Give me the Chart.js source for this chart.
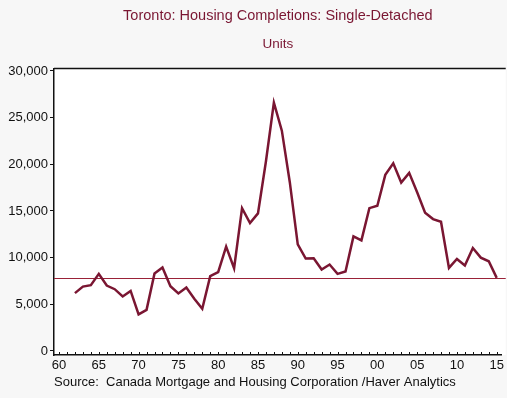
<!DOCTYPE html>
<html>
<head>
<meta charset="utf-8">
<script src="https://cdn.jsdelivr.net/npm/chart.js@4/dist/chart.umd.min.js"></script>
<style>
  html, body { margin: 0; padding: 0; background: #f7f7f7; }
  #grafico { display: block; }
</style>
</head>
<body>
<canvas id="grafico" width="507" height="398"></canvas>
<script>
// dados
const years = [1962, 1963, 1964, 1965, 1966, 1967, 1968, 1969, 1970, 1971,
  1972, 1973, 1974, 1975, 1976, 1977, 1978, 1979, 1980, 1981,
  1982, 1983, 1984, 1985, 1986, 1987, 1988, 1989, 1990, 1991,
  1992, 1993, 1994, 1995, 1996, 1997, 1998, 1999, 2000, 2001,
  2002, 2003, 2004, 2005, 2006, 2007, 2008, 2009, 2010, 2011,
  2012, 2013, 2014, 2015]
const completions = [6200, 6900, 7050, 8260, 7010, 6620, 5840, 6440, 3920, 4410,
  8300, 8940, 6940, 6160, 6800, 5590, 4520, 8010, 8440, 11180,
  8860, 15300, 13700, 14740, 20300, 26600, 23600, 18080, 11430, 9900,
  9930, 8720, 9260, 8260, 8510, 12280, 11850, 15300, 15560, 18870,
  20110, 18050, 19080, 17010, 14810, 14130, 13850, 8900, 9860, 9150,
  11030, 10000, 9610, 7830]
const refLevel = 7870
const tickYears = [1960, 1965, 1970, 1975, 1980, 1985, 1990, 1995, 2000, 2005, 2010, 2015]
const tickLabels = ['60', '65', '70', '75', '80', '85', '90', '95', '00', '05', '10', '15']
const yTicks = [0, 5000, 10000, 15000, 20000, 25000, 30000]
const minorYears = []
for (let a = 1960; a <= 2015; a++) minorYears.push(a)

const maroon = '#7a1632'
const font = "'Liberation Sans', Arial, sans-serif"

Chart.defaults.font.family = font
Chart.defaults.color = '#111'

// fundo branco, linha de referência, bordas e ticks menores
const extras = {
  id: 'extras',
  beforeDraw(chart) {
    const { ctx, chartArea: a } = chart
    ctx.save()
    ctx.fillStyle = '#ffffff'
    ctx.fillRect(a.left, a.top, a.right - a.left + 4, a.bottom - a.top)
    ctx.restore()
  },
  beforeDatasetsDraw(chart) {
    const { ctx, chartArea: a, scales } = chart
    const y = scales.y.getPixelForValue(refLevel)
    ctx.save()
    ctx.strokeStyle = '#9a2238'
    ctx.lineWidth = 1
    ctx.beginPath()
    ctx.moveTo(a.left, Math.round(y) + 0.5)
    ctx.lineTo(a.right + 4, Math.round(y) + 0.5)
    ctx.stroke()
    ctx.restore()
  },
  afterDraw(chart) {
    const { ctx, chartArea: a, scales } = chart
    ctx.save()
    ctx.strokeStyle = '#111'
    ctx.lineWidth = 1.5
    ctx.beginPath()
    ctx.moveTo(a.left, a.top)
    ctx.lineTo(a.right + 4, a.top)
    ctx.stroke()
    ctx.lineWidth = 1
    ctx.beginPath()
    minorYears.forEach(yr => {
      const x = Math.round(scales.x.getPixelForValue(yr)) + 0.5
      ctx.moveTo(x, a.bottom)
      ctx.lineTo(x, a.bottom - 3)
    })
    ctx.stroke()
    ctx.restore()
  }
}

const data = {
  datasets: [{
    data: years.map((yr, i) => ({ x: yr, y: completions[i] })),
    borderColor: maroon,
    borderWidth: 2.5,
    pointRadius: 0,
    tension: 0,
    fill: false
  }]
}

const config = {
  type: 'line',
  data,
  plugins: [extras],
  options: {
    responsive: false,
    animation: false,
    layout: { padding: { left: 0, right: 4, top: 0, bottom: 0 } },
    plugins: {
      legend: { display: false },
      tooltip: { enabled: false },
      title: {
        display: true,
        fullSize: false,
        text: 'Toronto: Housing Completions: Single-Detached',
        color: maroon,
        font: { size: 14.5, weight: 'normal' },
        padding: { top: 7, bottom: 12 }
      },
      subtitle: {
        display: true,
        fullSize: false,
        text: 'Units',
        color: maroon,
        font: { size: 13.5, weight: 'normal' },
        padding: { top: 0, bottom: 16 }
      }
    },
    scales: {
      x: {
        type: 'linear',
        min: 1959.37,
        max: 2015.63,
        afterBuildTicks: s => { s.ticks = tickYears.map(v => ({ value: v })) },
        afterFit: s => { s.height = 43 },
        ticks: {
          autoSkip: false,
          maxRotation: 0,
          padding: 3,
          color: '#111',
          font: { size: 13 },
          callback: (v) => tickLabels[tickYears.indexOf(v)]
        },
        grid: { display: true, drawOnChartArea: false, drawTicks: false },
        border: { display: true, color: '#111', width: 1.5 },
        title: {
          display: true,
          align: 'start',
          text: 'Source:  Canada Mortgage and Housing Corporation /Haver Analytics',
          color: '#111',
          font: { size: 13 },
          padding: { top: 0, bottom: 8 }
        }
      },
      y: {
        min: -430,
        max: 30250,
        afterBuildTicks: s => { s.ticks = yTicks.map(v => ({ value: v })) },
        afterFit: s => { s.width = 54 },
        ticks: {
          padding: 2,
          color: '#111',
          font: { size: 13 },
          callback: v => v.toLocaleString('en-US')
        },
        grid: { drawOnChartArea: false, drawTicks: true, tickLength: 4, color: '#111' },
        border: { display: true, color: '#111', width: 1.5 }
      }
    }
  }
}

const graph = new Chart(document.getElementById('grafico'), config)
</script>
</body>
</html>
